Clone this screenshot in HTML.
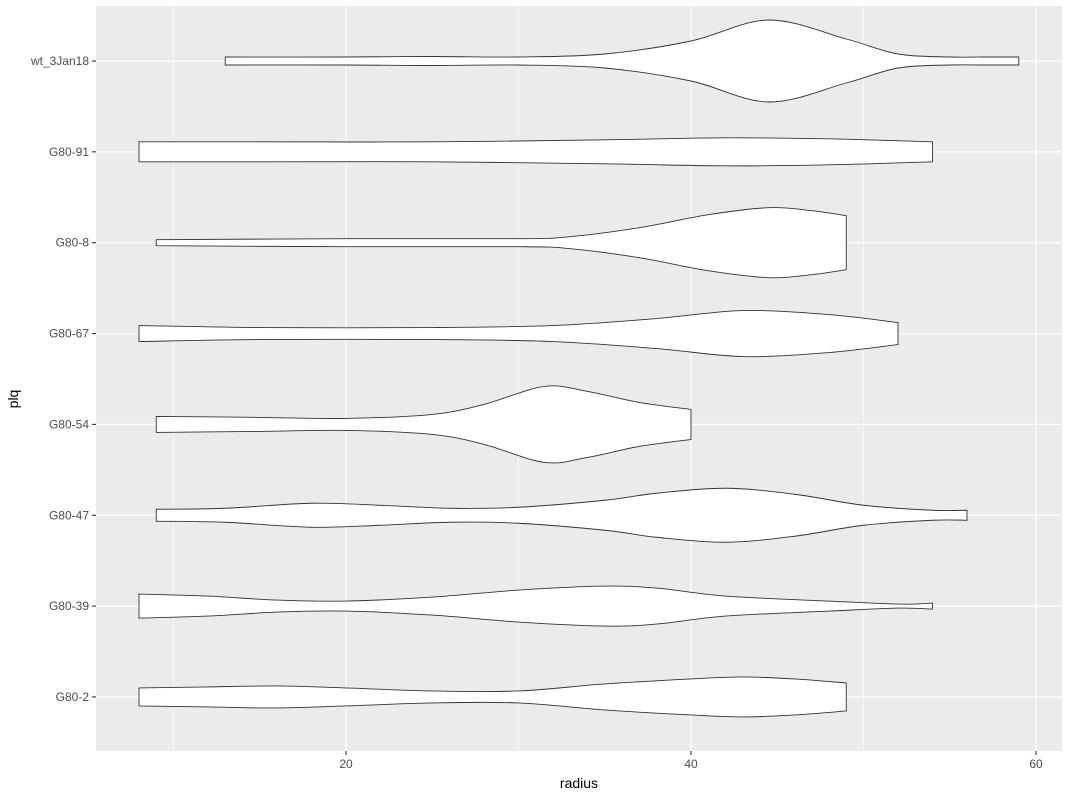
<!DOCTYPE html>
<html><head><meta charset="utf-8"><style>
body{margin:0;background:#fff;}
svg{display:block;font-family:"Liberation Sans",sans-serif;}
</style></head><body>
<svg id="chart" width="1071" height="795">
<rect x="96" y="6" width="966" height="745" fill="#EBEBEB"/>
<g id="grid"></g><g id="violins"></g><g id="axes"></g>
<text x="579" y="788" text-anchor="middle" font-size="14" fill="#000">radius</text>
<text transform="translate(18,399) rotate(-90)" text-anchor="middle" font-size="14" fill="#000">plq</text>
</svg>
<script>
const categories = ["wt_3Jan18","G80-91","G80-8","G80-67","G80-54","G80-47","G80-39","G80-2"];
const xTicks = [20,40,60];
const xMinor = [10,30,50];
const radii = [
 [13,20,25,30,35,40,44.5,49,52,55,57,59],
 [8,15,25,35,42,48,54],
 [9,20,30,33,37,41,44.5,47,49],
 [8,15,25,32,38,43,48,52],
 [9,15,20,25,28,31.5,34,37,40],
 [9,13,18,22,26,30,35,38,42,46,50,54,56],
 [8,12,16,20,25,30,35,38,42,48,52,54],
 [8,12,16,20,25,30,35,40,43,46,49]
];
const widths = [
 [4,4,4.5,4,7,20,41,22,7,4,4,4],
 [10,10,10,12,14,13,10],
 [3,4,4,6,15,28,35,32,27],
 [8,6,6,8,15,23,19,11],
 [8,7,6,10,20,38,33,22,15],
 [6,7,12,10,7,8,15,22,27,21,10,5,5],
 [12,10,6,5,9,16,20,18,10,5,2,3],
 [9,10,11,9,6,6,13,18,20,18,14]
];
const NS="http://www.w3.org/2000/svg";
const x = v => 1 + v*17.25;
const y = i => 61 + i*90.85;
function mk(tag, attrs, parent){const e=document.createElementNS(NS,tag);for(const k in attrs)e.setAttribute(k,attrs[k]);parent.appendChild(e);return e;}
const grid=document.getElementById('grid'), vg=document.getElementById('violins'), ax=document.getElementById('axes');
xMinor.forEach(v=>{const l=mk('line',{x1:x(v),x2:x(v),y1:6,y2:751,stroke:'#fff','stroke-width':0.6},grid);

});
xTicks.forEach(v=>{const l=mk('line',{x1:x(v),x2:x(v),y1:6,y2:751,stroke:'#fff','stroke-width':1.2},grid);


const t=mk('line',{x1:x(v),x2:x(v),y1:751,y2:755,stroke:'#333','stroke-width':1.1},ax);


const tx=mk('text',{x:x(v),y:768,'text-anchor':'middle','font-size':12,fill:'#4d4d4d'},ax);tx.textContent=v;

});
categories.forEach((c,i)=>{const l=mk('line',{x1:96,x2:1062,y1:y(i),y2:y(i),stroke:'#fff','stroke-width':1.2},grid);


const t=mk('line',{x1:92,x2:96,y1:y(i),y2:y(i),stroke:'#333','stroke-width':1.1},ax);


const tx=mk('text',{x:89,y:y(i)+4,'text-anchor':'end','font-size':12,fill:'#4d4d4d'},ax);tx.textContent=c;

});
function curve(pts){let d='';for(let i=0;i<pts.length-1;i++){const p0=pts[Math.max(0,i-1)],p1=pts[i],p2=pts[i+1],p3=pts[Math.min(pts.length-1,i+2)];
const c1=[p1[0]+(p2[0]-p0[0])/6,p1[1]+(p2[1]-p0[1])/6],c2=[p2[0]-(p3[0]-p1[0])/6,p2[1]-(p3[1]-p1[1])/6];
d+=` C${c1[0]},${c1[1]} ${c2[0]},${c2[1]} ${p2[0]},${p2[1]}`;}return d;}
categories.forEach((c,i)=>{const cy=y(i);
const top=radii[i].map((r,j)=>[x(r),cy-widths[i][j]]);
const bot=radii[i].map((r,j)=>[x(r),cy+widths[i][j]]).reverse();
let d=`M${top[0][0]},${top[0][1]}`+curve(top)+` L${bot[0][0]},${bot[0][1]}`+curve(bot)+'Z';
const p=mk('path',{d:d,fill:'#fff',stroke:'#333','stroke-width':0.9},vg);

});
</script>
</body></html>
